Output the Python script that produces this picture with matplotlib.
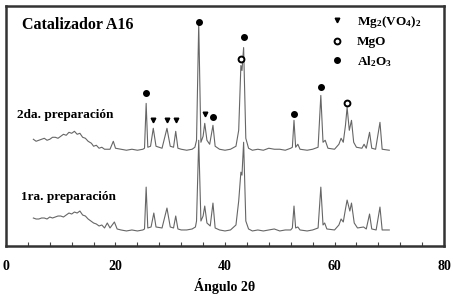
import numpy as np
import matplotlib
matplotlib.use("Agg")
import matplotlib.pyplot as plt
from matplotlib.lines import Line2D

plt.rcParams['font.family'] = ['Liberation Serif', 'DejaVu Serif']
plt.rcParams['font.weight'] = 'bold'
plt.rcParams['mathtext.fontset'] = 'custom'
plt.rcParams['mathtext.rm'] = 'Liberation Serif:bold'
plt.rcParams['mathtext.default'] = 'rm'

# 2da. preparacion (intensity above its own baseline)
ang_2da = [5.0, 5.5, 6, 6.5, 7, 7.5, 8, 8.5, 9, 9.5, 10, 10.5, 11, 11.5, 12, 12.5, 13, 13.5, 14, 14.5,
           15, 15.6, 16, 16.5, 17, 17.5, 18, 19, 19.6, 20, 21, 22, 23, 24, 25,
           25.3, 25.6, 25.9, 26.4, 26.9, 27.4, 28.5, 29.4, 30, 30.6, 31.0, 31.4, 32, 33, 34, 34.5, 34.8,
           35.2, 35.6, 36.0, 36.3, 36.7, 37.2, 37.8, 38.2, 39, 40, 41, 42, 42.5, 42.9, 43.1, 43.4, 43.8,
           44.3, 45, 46, 47, 48, 49, 50, 51, 52, 52.3, 52.6, 52.9, 53.3, 53.7, 55, 56, 57, 57.5, 57.9,
           58.3, 58.8, 60, 60.8, 61.2, 61.6, 62.0, 62.3, 62.7, 63.1, 63.5, 64, 65, 65.4, 65.8, 66.4, 66.8,
           67.5, 68.3, 68.7, 70]
int_2da = [11, 9, 10, 11, 12, 10, 11, 13, 13, 12, 14, 16, 15, 18, 17, 19, 16, 17, 13, 12,
           9, 7, 4, 5, 2, 3, 1, 1, 9, 2, 1, 0, 1, 0, 1,
           2, 47, 3, 4, 22, 4, 2, 22, 4, 3, 19, 2, 1, 0, 1, 3, 10,
           127, 8, 14, 27, 10, 6, 25, 4, 1, 0, 1, 4, 20, 85, 80, 103, 12,
           2, 0, 1, 0, 2, 1, 1, 0, 2, 3, 30, 3, 6, 1, 0, 1, 3, 55, 8,
           10, 2, 1, 6, 12, 8, 25, 43, 20, 30, 8, 3, 2, 6, 2, 18, 2,
           1, 28, 1, 0]

# 1ra. preparacion
ang_1ra = [5.0, 5.5, 6, 6.5, 7, 7.5, 8, 8.5, 9, 9.5, 10, 10.5, 11, 11.5, 12, 12.5, 13, 13.5, 14, 14.5,
           15, 15.5, 16, 16.5, 17, 17.5, 18, 18.5, 19, 19.8, 20.3, 21, 22, 23, 24, 25,
           25.3, 25.6, 25.9, 26.5, 27.0, 27.4, 28.5, 29.4, 30, 30.6, 31.0, 31.4, 32, 33, 34, 34.6, 34.8,
           35.2, 35.6, 36.0, 36.3, 36.7, 37.3, 37.8, 38.2, 39, 40, 41, 42, 42.5, 42.9, 43.1, 43.4, 43.8,
           44.3, 45, 46, 47, 48, 49, 50, 51, 52, 52.3, 52.6, 52.9, 53.3, 53.7, 55, 56, 57, 57.5, 57.9,
           58.2, 58.6, 60, 60.8, 61.2, 61.6, 62.0, 62.3, 62.8, 63.1, 63.6, 64.2, 65.3, 65.8, 66.4, 66.8,
           67.6, 68.3, 68.7, 70]
int_1ra = [13, 12, 12, 13, 13, 12, 14, 13, 14, 15, 15, 14, 16, 18, 17, 19, 18, 20, 16, 15,
           12, 10, 8, 7, 5, 6, 3, 8, 3, 9, 2, 1, 0, 1, 0, 1,
           2, 44, 3, 4, 18, 4, 3, 23, 4, 3, 15, 2, 1, 1, 2, 4, 10,
           91, 10, 15, 25, 8, 5, 28, 3, 1, 0, 1, 6, 30, 59, 56, 89, 10,
           2, 0, 1, 0, 1, 2, 0, 1, 1, 3, 25, 3, 4, 1, 0, 1, 3, 44, 6,
           8, 2, 1, 6, 12, 9, 22, 31, 20, 28, 8, 3, 4, 2, 17, 2,
           1, 24, 1, 1]

off_2da = 96
off_1ra = 15

# phase markers (angle, height)
al2o3_x = [25.6, 35.2, 37.8, 43.4, 52.6, 57.5]
al2o3_y = [153, 225, 129, 210, 132, 159]
mg2vo4_x = [26.9, 29.4, 31.0, 36.3]
mg2vo4_y = [126, 126, 126, 132]
mgo_x = [42.9, 62.3]
mgo_y = [188, 143]

fig = plt.figure(figsize=(4.53, 3.01), dpi=100)
ax = fig.add_axes([0.0132, 0.183, 0.967, 0.798])

ax.plot(ang_1ra, np.array(int_1ra) + off_1ra, color='#666666', lw=0.8)
ax.plot(ang_2da, np.array(int_2da) + off_2da, color='#666666', lw=0.8)

ax.plot(mg2vo4_x, mg2vo4_y, 'v', color='black', ms=3.3, ls='none')
ax.plot(mgo_x, mgo_y, 'o', mfc='white', mec='black', mew=1.4, ms=4.2, ls='none')
ax.plot(al2o3_x, al2o3_y, 'o', color='black', ms=4.0, ls='none')

ax.text(3.0, 222, 'Catalizador A16', fontsize=11.5, fontweight='bold', va='center')
ax.text(2.0, 131, '2da. preparación', fontsize=9.5, fontweight='bold', va='center')
ax.text(2.8, 49, '1ra. preparación', fontsize=9.5, fontweight='bold', va='center')

handles = [Line2D([], [], marker='v', color='black', ls='none', ms=3.3),
           Line2D([], [], marker='o', mfc='white', mec='black', mew=1.4, ms=4.2, ls='none'),
           Line2D([], [], marker='o', color='black', ls='none', ms=4.0)]
labels = ['Mg$_2$(VO$_4$)$_2$', 'MgO', 'Al$_2$O$_3$']
leg = ax.legend(handles, labels, loc='upper right', bbox_to_anchor=(0.975, 1.015), frameon=False,
                prop={'family': 'Liberation Serif', 'weight': 'bold', 'size': 9.5},
                handlelength=1.0, handletextpad=1.0, labelspacing=0.45)

ax.set_xlim(0, 80)
ax.set_ylim(0, 241)
ax.set_xticks([0, 20, 40, 60, 80])
ax.set_xticks(np.arange(0, 81, 4), minor=True)
ax.set_yticks([])
ax.tick_params(axis='x', which='both', direction='in', length=3, width=0.8, color='#444444', pad=10,
               labelsize=10)
for lab in ax.get_xticklabels():
    lab.set_fontweight('bold')
ax.set_xlabel('Ángulo 2θ', fontsize=10, fontweight='bold', labelpad=4)
for s in ax.spines.values():
    s.set_linewidth(1.8)
    s.set_color('#333333')

fig.savefig('out.png', dpi=100)
